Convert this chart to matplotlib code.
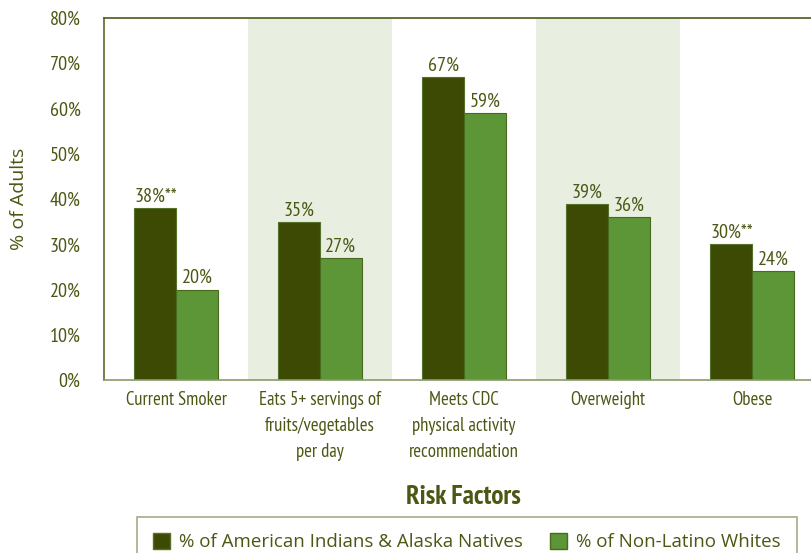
import matplotlib.pyplot as plt
import numpy as np
from matplotlib.patches import Patch

# Data
categories = ['Current Smoker',
              'Eats 5+ servings of\nfruits/vegetables\nper day',
              'Meets CDC\nphysical activity\nrecommendation',
              'Overweight',
              'Obese']
aian = [38, 35, 67, 39, 30]
whites = [20, 27, 59, 36, 24]
aian_notes = ['**', '', '', '', '**']
yticks = [0, 10, 20, 30, 40, 50, 60, 70, 80]

dark = '#3d4a03'
light = '#5c9636'
band = '#e8eee0'
txt = '#4a5814'

plt.rcParams['font.family'] = ['PT Sans Narrow', 'Open Sans Condensed', 'DejaVu Sans']

fig = plt.figure(figsize=(8.12, 5.53), dpi=100)
ax = fig.add_axes([104 / 812, 1 - 380 / 553, 720 / 812, (380 - 18) / 553])

x = np.arange(len(categories))
w = 0.29

# shaded bands behind every other category
for i in x:
    if i % 2 == 1:
        ax.axvspan(i - 0.5, i + 0.5, color=band, zorder=0, lw=0)

ax.bar(x - w / 2, aian, w, color=dark, edgecolor='#55702a', lw=0.8, zorder=2)
ax.bar(x + w / 2, whites, w, color=light, edgecolor='#4a6a1e', lw=0.8, zorder=2)

for i in x:
    if aian_notes[i]:
        ax.text(i - w + 0.005, aian[i] + 0.5, f'{aian[i]}%{aian_notes[i]}',
                ha='left', va='bottom', fontsize=14.5, color=txt)
    else:
        ax.text(i - w / 2, aian[i] + 0.5, f'{aian[i]}%',
                ha='center', va='bottom', fontsize=14.5, color=txt)
    ax.text(i + w / 2, whites[i] + 0.5, f'{whites[i]}%',
            ha='center', va='bottom', fontsize=14.5, color=txt)

ax.set_xlim(-0.5, 4.5)
ax.set_ylim(0, 80)
ax.set_yticks(yticks)
ax.set_yticklabels([f'{t}%' for t in yticks])
ax.set_xticks(x)
ax.set_xticklabels(categories, fontsize=13.5, color=txt, linespacing=1.55)
ax.tick_params(axis='y', length=0, pad=17, labelsize=14.5, labelcolor=txt)
ax.tick_params(axis='x', length=0, pad=8)

ax.spines['left'].set_color('#5a6a2a')
ax.spines['top'].set_color('#4d5a1e')
ax.spines['bottom'].set_color('#8a9a6a')
ax.spines['right'].set_visible(False)
for s in ax.spines.values():
    s.set_linewidth(1.2)

ax.set_ylabel('% of Adults', fontsize=14, color=txt,
              family=['Open Sans', 'DejaVu Sans'])
ax.yaxis.set_label_coords(-0.105, 0.5)

fig.text(463 / 812, 1 - 497 / 553, 'Risk Factors', ha='center', va='center',
         fontsize=19.5, fontweight='bold', color=txt)

handles = [Patch(facecolor=dark, edgecolor='#55702a', label='% of American Indians & Alaska Natives'),
           Patch(facecolor=light, edgecolor='#4a6a1e', label='% of Non-Latino Whites')]
leg = fig.legend(handles=handles, loc='upper left', ncol=2,
                 bbox_to_anchor=(137 / 812, 1 - 517 / 553), frameon=True,
                 fancybox=False, handlelength=0.9, handleheight=0.9,
                 handletextpad=0.5, columnspacing=1.45, borderpad=0.85,
                 borderaxespad=0, prop={'family': ['Open Sans', 'DejaVu Sans'], 'size': 13.5})
leg.get_frame().set_edgecolor('#8a9a6a')
leg.get_frame().set_linewidth(1.2)
for t in leg.get_texts():
    t.set_color(txt)

fig.savefig('out.png', dpi=100)
